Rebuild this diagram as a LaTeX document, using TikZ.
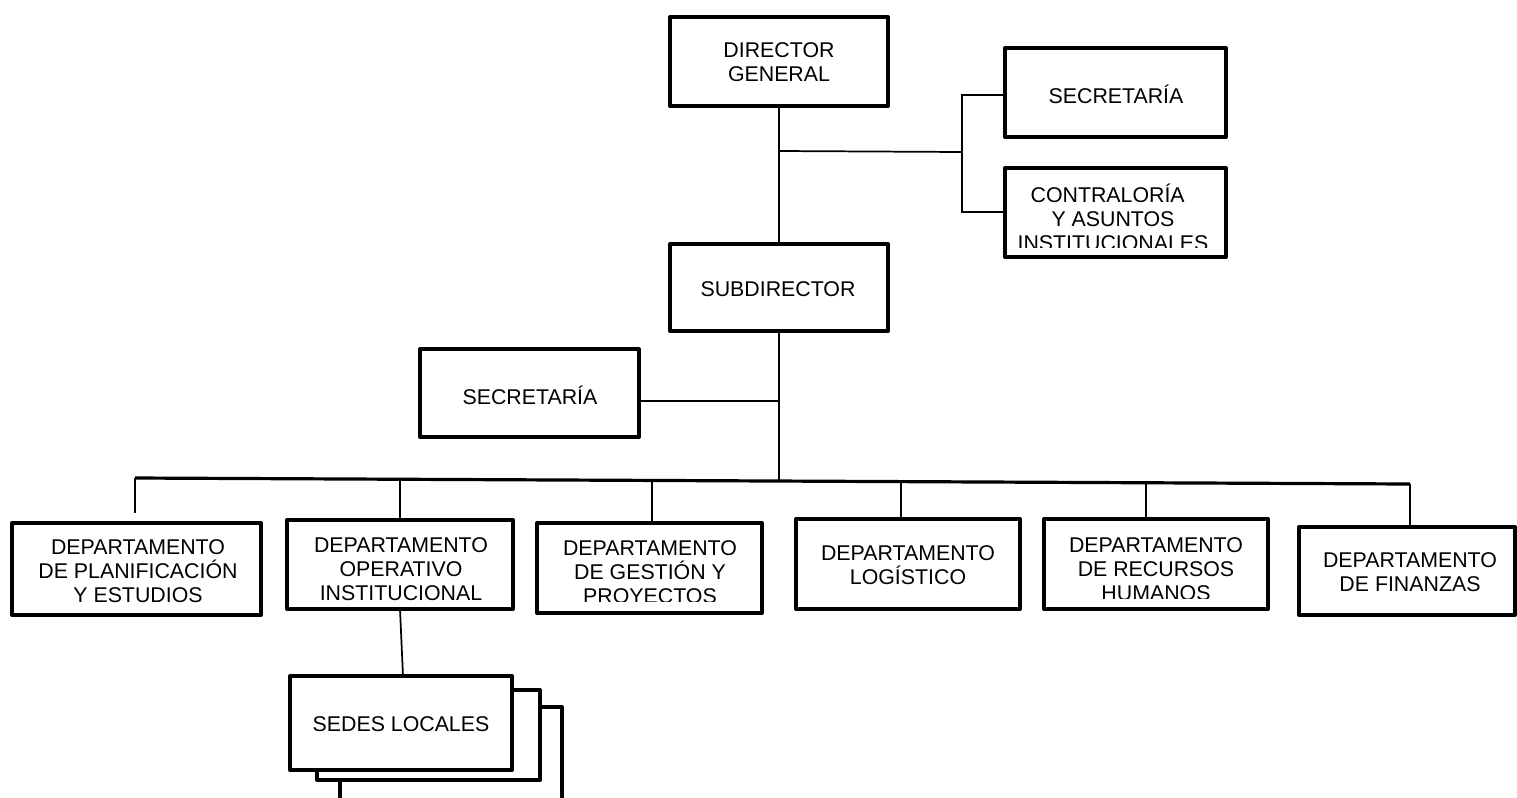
\documentclass[tikz,border=0pt]{standalone}
\usepackage{fontspec}
\setmainfont{Liberation Sans}
\usetikzlibrary{calc,fit}
\begin{document}
\begin{tikzpicture}[x=0.75pt,y=-0.75pt,
  box/.style={draw, line width=3pt, fill=white, line join=round, inner sep=0pt, outer sep=0pt},
  txt/.style={align=center, font=\fontsize{16}{18}\selectfont, inner sep=0pt},
  conn/.style={line width=1.3pt},
  busline/.style={line width=2.4pt}]
\useasboundingbox (0,0) rectangle (1517,797);
\clip (0,0) rectangle (1517,797);

% boxes
\node[box, fit={(670,17) (888,106)}] (dg) {};
\node[txt] (dgt) at (779,62) {DIRECTOR\\GENERAL};

\node[box, fit={(1005,48) (1226,137)}] (sec1) {};
\node[txt] (sec1t) at (1116,94) {SECRETARÍA};

\node[box, fit={(1005,168) (1226,257)}] (contra) {};
\begin{scope}
  \clip (1007,170) rectangle (1224,247.5);
  \node[txt] (contrat) at (1113,217) {CONTRALORÍA\hspace*{0.5em}\\Y ASUNTOS\\INSTITUCIONALES};
\end{scope}

\node[box, fit={(670,244) (888,331)}] (sub) {};
\node[txt] (subt) at (778,289) {SUBDIRECTOR};

\node[box, fit={(420,349) (639,437)}] (sec2) {};
\node[txt] (sec2t) at (530,395) {SECRETARÍA};

\node[box, fit={(12,523) (261,615)}] (d1) {};
\node[txt] (d1t) at (138,571) {DEPARTAMENTO\\DE PLANIFICACIÓN\\Y ESTUDIOS};

\node[box, fit={(287,520) (513,609)}] (d2) {};
\node[txt] (d2t) at (401,569) {DEPARTAMENTO\\OPERATIVO\\INSTITUCIONAL};

\node[box, fit={(537,523) (762,613)}] (d3) {};
\begin{scope}
  \clip (539,525) rectangle (760,601.5);
  \node[txt] (d3t) at (650,572) {DEPARTAMENTO\\DE GESTIÓN Y\\PROYECTOS};
\end{scope}

\node[box, fit={(796,519) (1020,609)}] (d4) {};
\node[txt] (d4t) at (908,565) {DEPARTAMENTO\\LOGÍSTICO};

\node[box, fit={(1044,519) (1268,609)}] (d5) {};
\begin{scope}
  \clip (1046,521) rectangle (1266,598.5);
  \node[txt] (d5t) at (1156,569) {DEPARTAMENTO\\DE RECURSOS\\HUMANOS};
\end{scope}

\node[box, fit={(1299,527) (1515,615)}] (d6) {};
\node[txt] (d6t) at (1410,572) {DEPARTAMENTO\\DE FINANZAS};

% sedes locales stack
\node[box, fit={(340,707) (562,840)}] (sedes3) {};
\node[box, fit={(317,690) (540,780)}] (sedes2) {};
\node[box, fit={(290,676) (512,770)}] (sedes) {};
\node[txt] (sedest) at (401,724) {SEDES LOCALES};

% connectors top
\coordinate (j1) at (779,151);
\coordinate (b0) at (962,152);
\coordinate (b1) at (962,95);
\coordinate (b2) at (962,212);
\draw[conn] (dg.south) -- (sub.north);
\draw[conn] (j1) -- (b0);
\draw[conn] (sec1.west |- b1) -- (b1) -- (b2) -- (contra.west |- b2);

% subdirector to bus
\coordinate (tb) at (779,481);
\coordinate (j2) at (779,401);
\draw[conn] (sub.south) -- (tb);
\draw[conn] (sec2.east |- j2) -- (j2);

% bus
\coordinate (busL) at (135,478);
\coordinate (busR) at (1410,484);
\draw[busline, line cap=butt] (busL) -- (busR);
\coordinate (t2) at (400,479.2);
\coordinate (t3) at (652,480.4);
\coordinate (t4) at (901,481.6);
\coordinate (t5) at (1146,482.8);
\draw[conn] (busL) -- ($(busL |- d1.north)+(0,-10)$);
\draw[conn] (t2) -- (t2 |- d2.north);
\draw[conn] (t3) -- (t3 |- d3.north);
\draw[conn] (t4) -- (t4 |- d4.north);
\draw[conn] (t5) -- (t5 |- d5.north);
\draw[conn] (busR) -- (busR |- d6.north);

% operativo to sedes
\draw[conn] (d2.south) -- ($(sedes.north)+(2,0)$);
\end{tikzpicture}
\end{document}
